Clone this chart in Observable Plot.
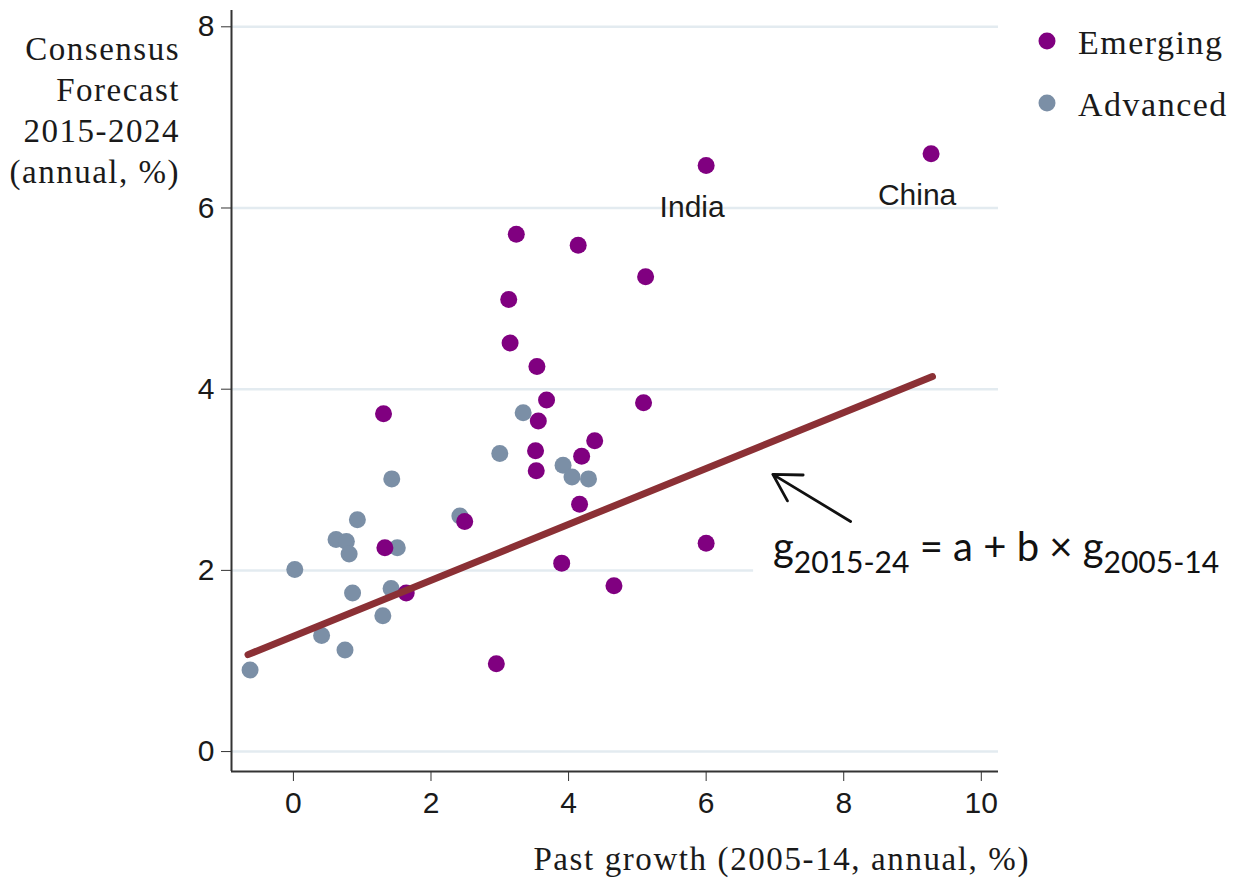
<!DOCTYPE html>
<html><head><meta charset="utf-8">
<script src="https://cdn.jsdelivr.net/npm/d3@7"></script>
<script src="https://cdn.jsdelivr.net/npm/@observablehq/plot@0.6"></script>
<style>body{margin:0;background:#fff}</style>
</head><body><div id="chart"></div>
<script>
// ---- data ----
const emergingX = [9.27, 6.00, 3.24, 4.14, 5.12, 3.13, 3.15, 3.54, 3.68, 1.31, 5.09, 3.56, 4.38, 3.52, 4.19, 3.53, 4.16, 2.49, 1.33, 6.00, 3.90, 4.66, 1.64, 2.95];
const emergingY = [6.60, 6.47, 5.71, 5.59, 5.24, 4.99, 4.51, 4.25, 3.88, 3.73, 3.85, 3.65, 3.43, 3.32, 3.26, 3.10, 2.73, 2.54, 2.25, 2.30, 2.08, 1.83, 1.75, 0.97];
const advancedX = [3.34, 3.00, 3.92, 4.05, 4.29, 1.43, 0.93, 2.42, 0.62, 0.77, 0.81, 1.51, 0.02, 0.86, 1.42, 1.30, 0.41, 0.75, -0.63];
const advancedY = [3.74, 3.29, 3.16, 3.03, 3.01, 3.01, 2.56, 2.60, 2.34, 2.32, 2.18, 2.25, 2.01, 1.75, 1.80, 1.50, 1.28, 1.12, 0.90];
const fitX = [-0.66, 9.29];
const fitY = [1.07, 4.14];
const labelNames = ["India", "China"];
const labelX = [6.00, 9.27];
const labelY = [6.47, 6.60];
const xTicks = [0, 2, 4, 6, 8, 10];
const yTicks = [0, 2, 4, 6, 8];
const xDomain = [-0.9, 10.25];
const yDomain = [-0.22, 8.18];
const seriesNames = ["Emerging", "Advanced"];
const seriesColors = ["#800080", "#7b8fa6"];
const yTitleLines = ["Consensus", "Forecast", "2015-2024", "(annual, %)"];
const xTitle = "Past growth (2005-14, annual, %)";
// annotation: arrow pointing at the fitted line, and equation
const arrowFrom = {x: 8.10, y: 2.54};
const arrowTo = {x: 6.97, y: 3.06};
const eqAt = {x: 6.98, y: 2.10};
const eqBox = [{x1: 6.69, x2: 10.25, y1: 1.82, y2: 2.2}];

// ---- tables ----
const emerging = emergingX.map((x, i) => ({x, y: emergingY[i]}));
const advanced = advancedX.map((x, i) => ({x, y: advancedY[i]}));
const fit = fitX.map((x, i) => ({x, y: fitY[i]}));
const labels = labelNames.map((t, i) => ({text: t, x: labelX[i], y: labelY[i]}));

const chart = Plot.plot({
  width: 1236, height: 881,
  marginLeft: 231, marginRight: 238, marginTop: 10, marginBottom: 110,
  x: {domain: xDomain},
  y: {domain: yDomain},
  style: {fontFamily: "'Liberation Sans', Arial, sans-serif", fontSize: "30px", color: "#1a1a1a", background: "#fff"},
  marks: [
    Plot.gridY(yTicks, {stroke: "#e3ebf0", strokeOpacity: 1, strokeWidth: 2.5}),
    Plot.rect(eqBox, {x1: "x1", x2: "x2", y1: "y1", y2: "y2", fill: "white"}),
    Plot.ruleX([xDomain[0]], {stroke: "#333", strokeWidth: 2}),
    Plot.ruleY([yDomain[0]], {stroke: "#333", strokeWidth: 2}),
    Plot.axisY(yTicks, {anchor: "left", tickSize: 10, tickPadding: 7, fontSize: 30, label: null, stroke: "#333", tickFormat: d3.format("d")}),
    Plot.axisX(xTicks, {anchor: "bottom", tickSize: 10, tickPadding: 10, fontSize: 30, label: null, stroke: "#333", tickFormat: d3.format("d")}),
    Plot.dot(advanced, {x: "x", y: "y", r: 8.5, fill: seriesColors[1], stroke: null}),
    Plot.dot(emerging, {x: "x", y: "y", r: 8.5, fill: seriesColors[0], stroke: null}),
    Plot.line(fit, {x: "x", y: "y", stroke: "#8b3035", strokeWidth: 7, strokeLinecap: "round"}),
    Plot.text(labels, {x: "x", y: "y", text: "text", dx: -14, dy: 42, fontSize: 30, fill: "#1a1a1a", textAnchor: "middle"}),
    Plot.arrow([{x1: arrowFrom.x, y1: arrowFrom.y, x2: arrowTo.x, y2: arrowTo.y}], {x1: "x1", y1: "y1", x2: "x2", y2: "y2", stroke: "#111", strokeWidth: 2.8, headLength: 22, bend: 0})
  ]
});
document.getElementById("chart").appendChild(chart);

// ---- extra text: titles, legend, equation ----
const svg = d3.select(chart);
const sx = chart.scale("x"), sy = chart.scale("y");
const serif = "'Liberation Serif', 'Times New Roman', serif";

const yt = svg.append("text").attr("font-family", serif).attr("font-size", 33)
  .attr("letter-spacing", 1.5).attr("text-anchor", "end").attr("fill", "#1a1a1a");
yTitleLines.forEach((t, i) => yt.append("tspan").attr("x", 180).attr("y", 60 + i * 41).text(t));

svg.append("text").attr("font-family", serif).attr("font-size", 33).attr("letter-spacing", 1.6)
  .attr("text-anchor", "end").attr("fill", "#1a1a1a")
  .attr("x", 1030).attr("y", 870).text(xTitle);

seriesNames.forEach((name, i) => {
  const cy = 41 + i * 62;
  svg.append("circle").attr("cx", 1047).attr("cy", cy).attr("r", 8.5).attr("fill", seriesColors[i]);
  svg.append("text").attr("font-family", serif).attr("font-size", 34).attr("letter-spacing", 1.5)
    .attr("text-anchor", "start").attr("fill", "#1a1a1a").attr("x", 1078).attr("y", cy + 13).text(name);
});

const eq = svg.append("text").attr("font-family", "Lato, 'Open Sans', sans-serif")
  .attr("font-size", 40).attr("fill", "#111").attr("text-anchor", "start")
  .attr("x", sx.apply(eqAt.x)).attr("y", sy.apply(eqAt.y));
eq.append("tspan").text("g");
eq.append("tspan").attr("font-size", 30).attr("dy", 12).text("2015-24");
eq.append("tspan").attr("dy", -12).text(" = a + b \u00d7 g");
eq.append("tspan").attr("font-size", 30).attr("dy", 12).text("2005-14");
</script>
</body></html>
